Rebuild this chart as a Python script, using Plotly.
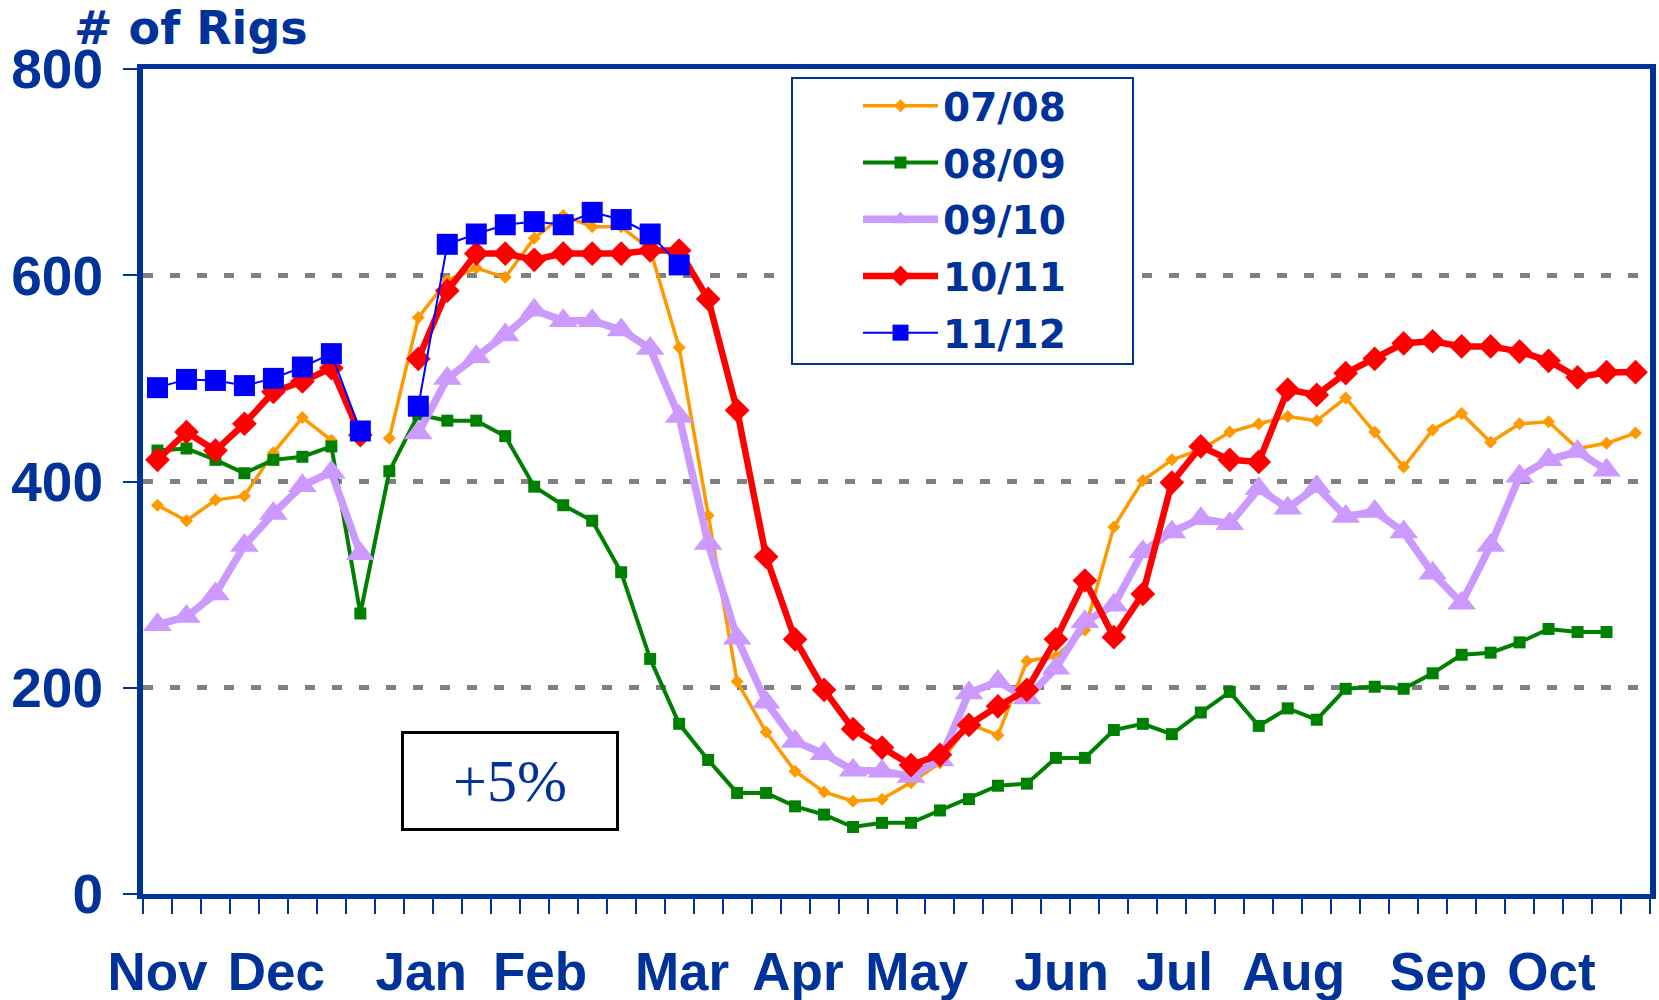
import plotly.graph_objects as go

weeks = list(range(52))

s0708 = [377, 362, 382, 386, 428, 462, 440, None, 442, 559, 595, 607, 598, 636, 658, 647, 647, 625, 530, 367,
         206, 157, 119, 99, 90, 92, 108, 127, 165, 154, 226, 230, 256, 356, 401, 421, 431, 448, 456, 463,
         459, 481, 448, 414, 450, 466, 438, 456, 458, 432, 437, 447]
s0809 = [430, 432, 421, 408, 421, 424, 434, 272, 410, 465, 459, 459, 444, 395, 377, 362, 312, 228, 165, 130,
         98, 98, 85, 77, 65, 69, 69, 81, 92, 105, 107, 132, 132, 159, 165, 155, 176, 196, 163, 180,
         169, 199, 201, 199, 214, 232, 234, 244, 257, 254, 254, None]
s0910 = [261, 269, 291, 338, 369, 396, 409, 330, None, 447, 500, 521, 542, 566, 556, 556, 547, 529, 463, 340,
         248, 186, 148, 136, 120, 119, 114, 130, 195, 206, 190, 219, 264, 280, 332, 351, 364, 359, 393, 374,
         395, 366, 371, 351, 311, 282, 338, 405, 421, 429, 411, None]
s1011 = [421, 448, 430, 456, 487, 497, 510, 445, None, 519, 585, 621, 621, 615, 621, 621, 621, 624, 624, 577,
         469, 327, 247, 198, 160, 142, 125, 135, 164, 182, 198, 247, 304, 249, 291, 399, 434, 421, 419, 489,
         484, 505, 519, 534, 536, 531, 531, 526, 517, 501, 506, 506]
s1112 = [491, 499, 498, 493, 500, 511, 524, 449, None, 473, 630, 640, 649, 652, 649, 661, 654, 640, 610] + [None] * 33

month_labels = ["Nov", "Dec", "Jan", "Feb", "Mar", "Apr", "May", "Jun", "Jul", "Aug", "Sep", "Oct"]
month_pos = [0, 4.1, 9.1, 13.2, 18.1, 22.1, 26.2, 31.2, 35.1, 39.2, 44.2, 48.1]

NAVY = "#003399"

series = [
    ("07/08", s0708, "#FF9900", 3.5, "diamond", 10),
    ("08/09", s0809, "#008000", 4, "square", 12),
    ("09/10", s0910, "#CC99FF", 7.5, "triangle-up", 25),
    ("10/11", s1011, "#FF0000", 6.5, "diamond", 19),
    ("11/12", s1112, "#0000FF", 2, "square", 21),
]

L, R, T, B = 143, 9, 69, 106
PW, PH = 1659 - L - R, 1000 - T - B


def px(xp):
    return (xp - L) / PW


def py(yp):
    return (1000 - B - yp) / PH


fig = go.Figure()
for name, vals, col, lw, sym, ms in series:
    fig.add_trace(go.Scatter(
        x=weeks, y=vals, name=name, mode="lines+markers",
        line=dict(color=col, width=lw),
        marker=dict(symbol=sym, size=ms, color=col, line=dict(width=0)),
        legendgroup=name,
    ))

fig.update_layout(
    width=1659, height=1000,
    margin=dict(l=L, r=R, t=T, b=B, autoexpand=False),
    plot_bgcolor="white", paper_bgcolor="white",
    showlegend=True,
    legend=dict(
        x=px(858), y=py(74), xanchor="left", yanchor="top",
        bgcolor="rgba(0,0,0,0)", borderwidth=0,
        font=dict(family="DejaVu Sans", size=39, color=NAVY, weight="bold"),
        itemwidth=75, tracegroupgap=3,
    ),
    shapes=[dict(type="rect", xref="paper", yref="paper",
                 x0=px(792), x1=px(1133), y0=py(364), y1=py(78),
                 line=dict(color=NAVY, width=2), fillcolor="white", layer="above")],
    annotations=[
        dict(text="# of Rigs", xref="paper", yref="paper", x=px(72), y=py(28),
             xanchor="left", yanchor="middle", showarrow=False,
             font=dict(family="DejaVu Sans", size=46, color=NAVY, weight="bold")),
        dict(text="+5%", xref="paper", yref="paper", x=px(510), y=py(781),
             xanchor="center", yanchor="middle", showarrow=False,
             width=212, height=94, borderpad=0, borderwidth=3, bordercolor="black", bgcolor="white",
             font=dict(family="Liberation Serif", size=60, color=NAVY)),
    ],
)

fig.update_xaxes(
    range=[-0.5, 51.5], tickmode="array", tickvals=month_pos, ticktext=month_labels,
    ticks="", showgrid=False, zeroline=False, automargin=False,
    showline=True, linewidth=5, linecolor=NAVY, mirror=True,
    tickfont=dict(family="Liberation Sans", size=53, color=NAVY, weight="bold"),
    ticklabelstandoff=27,
    minor=dict(ticks="outside", tick0=-0.5, dtick=1, ticklen=15, tickwidth=2, tickcolor=NAVY, showgrid=False),
)
fig.update_yaxes(
    range=[0, 800], tickmode="linear", tick0=0, dtick=200,
    ticks="outside", ticklen=14, tickwidth=2, tickcolor=NAVY,
    showgrid=True, gridcolor="#808080", gridwidth=4.5, griddash="10px,17px",
    zeroline=False, showline=True, linewidth=6, linecolor=NAVY, mirror=True, automargin=False,
    tickfont=dict(family="Liberation Sans", size=55, color=NAVY, weight="bold"),
    ticklabelstandoff=9,
)

fig.write_html("out.html", config={"displayModeBar": False},
               post_script="document.body.style.margin='0';document.body.style.overflow='hidden';")
